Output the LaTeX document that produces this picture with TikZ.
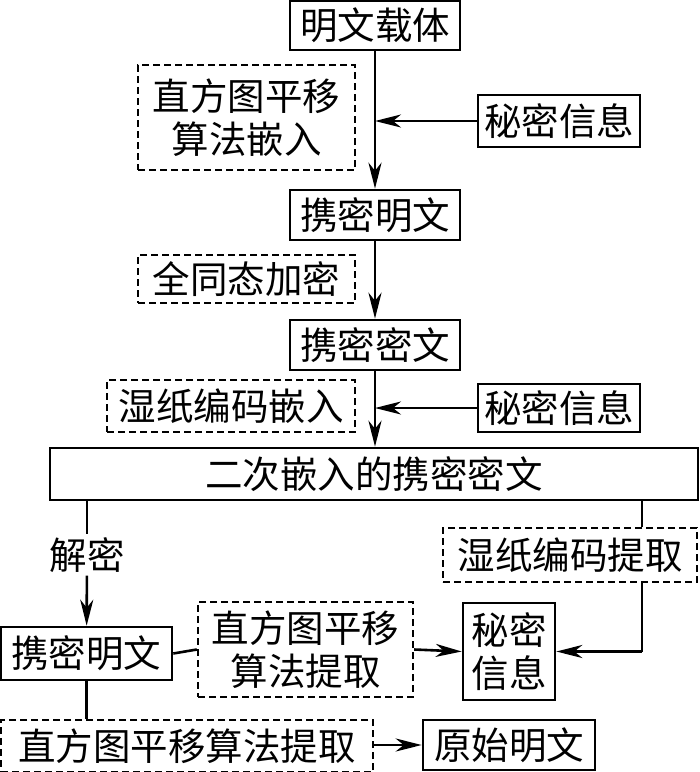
\documentclass[tikz,border=0pt]{standalone}
\usepackage{fontspec}
\setmainfont{Noto Sans CJK SC}
\usetikzlibrary{arrows.meta}
\begin{document}
\begin{tikzpicture}[x=1pt,y=-1pt,
  every node/.style={font=\fontsize{37.5pt}{43pt}\selectfont, inner sep=0pt, align=center},
  box/.style={draw, line width=2.6pt},
  dbox/.style={draw, line width=2.4pt, dash pattern=on 7pt off 4pt},
  conn/.style={line width=2.6pt},
  arr/.style={conn, -{Stealth[length=26pt,width=13pt,inset=8pt]}}]
\useasboundingbox (0,0) rectangle (700,772);
\node[box, minimum width=170pt, minimum height=49pt] (n1) at (375,25.5) {明文载体};
\node[dbox, minimum width=217pt, minimum height=105pt] (d1) at (246.5,117.5) {直方图平移\\算法嵌入};
\node[box, minimum width=162pt, minimum height=52pt] (s1) at (559,121) {秘密信息};
\node[box, minimum width=170pt, minimum height=50pt] (n2) at (375,215) {携密明文};
\node[dbox, minimum width=217pt, minimum height=48pt] (d2) at (246.5,279) {全同态加密};
\node[box, minimum width=170pt, minimum height=50pt] (n3) at (375,345) {携密密文};
\node[dbox, minimum width=248pt, minimum height=52pt] (d3) at (231,406) {湿纸编码嵌入};
\node[box, minimum width=162pt, minimum height=48pt] (s2) at (559,408) {秘密信息};
\node[box, minimum width=648pt, minimum height=52pt] (n4) at (374,474) {二次嵌入的携密密文};
\node[inner sep=3pt] (lbl) at (87,555) {解密};
\node[dbox, minimum width=254pt, minimum height=54pt] (d4) at (570,555) {湿纸编码提取};
\node[box, minimum width=171pt, minimum height=53pt] (n5) at (86.5,653.5) {携密明文};
\node[dbox, minimum width=215pt, minimum height=95pt] (d5) at (305.5,649.5) {直方图平移\\算法提取};
\node[box, minimum width=92pt, minimum height=97pt] (s3) at (509,651.5) {秘密\\信息};
\node[dbox, minimum width=372pt, minimum height=52pt] (d6) at (187,746) {直方图平移算法提取};
\node[box, minimum width=172pt, minimum height=50pt] (n6) at (509,745) {原始明文};
\coordinate (j1) at (375,121);
\coordinate (j2) at (375,408);
\coordinate (c1) at (642,651.5);
\draw[arr] (n1) -- (n2);
\draw[arr] (s1) -- (j1);
\draw[arr] (n2) -- (n3);
\draw[arr] (n3) -- (n4.north -| n3);
\draw[arr] (s2) -- (j2);
\draw[conn] (n4.south -| lbl) -- (lbl);
\draw[arr] (lbl) -- (n5);
\draw[conn] (n4.south -| c1) -- (d4.north -| c1);
\draw[conn] (d4.south -| c1) -- (c1);
\draw[arr] (c1) -- (s3.east);
\draw[conn] (n5.east) -- (d5.west);
\draw[arr] (d5.east) -- (s3.west);
\draw[conn] (n5) -- (d6.north -| n5);
\draw[arr] (d6.east |- n6) -- (n6.west);
\end{tikzpicture}
\end{document}
